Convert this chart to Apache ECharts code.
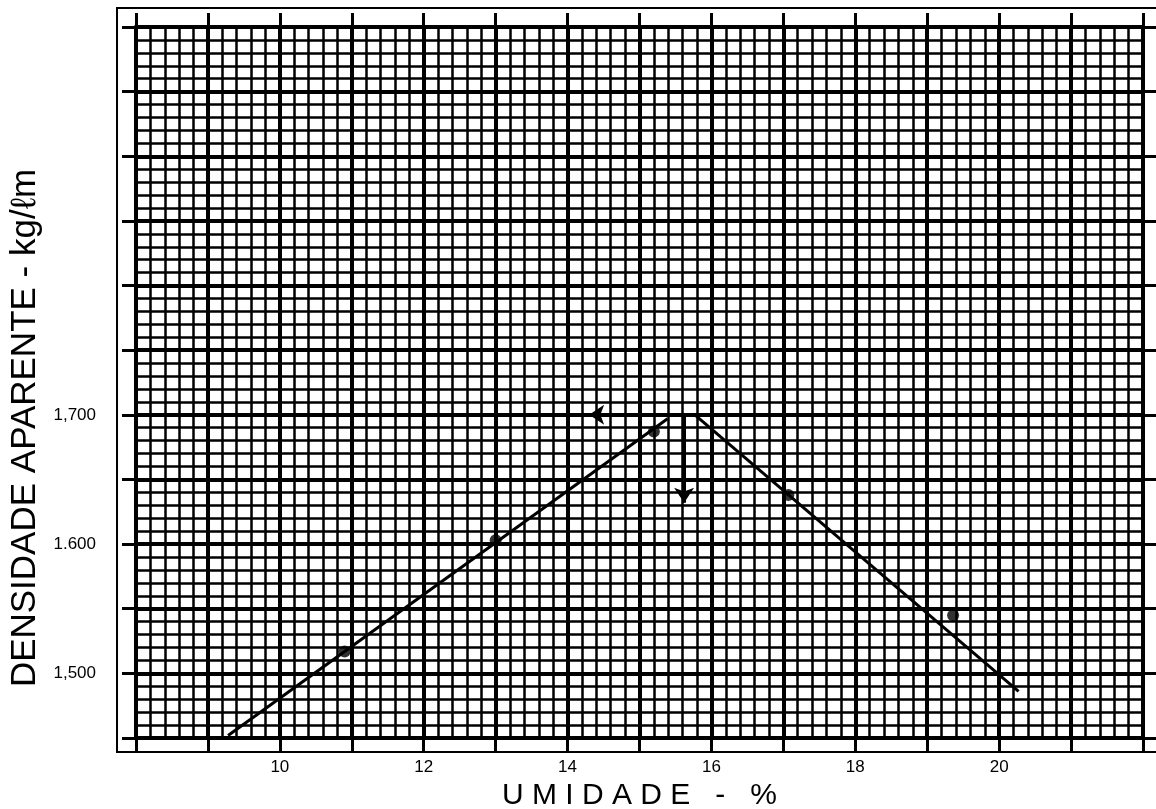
<!DOCTYPE html>
<html>
<head>
<meta charset="utf-8">
<title>Umidade x Densidade aparente</title>
<script src="https://cdn.jsdelivr.net/npm/echarts@6/dist/echarts.min.js"></script>
<style>
  html, body { margin: 0; padding: 0; background: #fff; }
  #main { width: 1156px; height: 809px; }
</style>
</head>
<body>
<div id="main"></div>
<script>
// pontos do ensaio (umidade %, densidade)
var umidade = [10.9, 13.0, 15.2, 17.07, 19.36];
var densidade = [1.517, 1.603, 1.687, 1.638, 1.545];
// retas ramo seco / ramo umido
var ramoSeco = [[9.28, 1.452], [15.39, 1.697]];
var ramoUmido = [[15.77, 1.700], [20.27, 1.486]];
// setas (densidade maxima / umidade otima)
var setaDens = [[15.62, 1.700], [14.3, 1.700]];
var setaUmid = [[15.62, 1.700], [15.62, 1.632]];
// rotulos
var xTicks = [10, 12, 14, 16, 18, 20];
var yTicks = [1.5, 1.6, 1.7];
var yTickText = ['1,500', '1.600', '1,700'];

var fonte = '"Liberation Sans", Arial, sans-serif';
var myChart = echarts.init(document.getElementById('main'));

var pontos = [];
for (var i = 0; i < umidade.length; i++) {
    pontos.push([umidade[i], densidade[i]]);
}

myChart.setOption({
    backgroundColor: '#fff',
    animation: false,
    grid: [
        { left: 136, top: 27, right: 13, bottom: 71, outerBoundsMode: 'none', containLabel: false },
        // moldura externa
        { left: 117, top: 8, right: -5, bottom: 57, outerBoundsMode: 'none', show: true, borderColor: '#000', borderWidth: 2, backgroundColor: 'transparent' }
    ],
    xAxis: [
        {
            type: 'value', gridIndex: 0, min: 8, max: 22, interval: 1,
            name: 'U M I D A D E   -   %', nameLocation: 'middle', nameGap: 37,
            nameTextStyle: { color: '#000', fontSize: 30, fontFamily: fonte },
            axisLine: { show: true, lineStyle: { color: '#000', width: 4 } },
            axisTick: { show: true, inside: false, length: 14, lineStyle: { color: '#000', width: 3 } },
            axisLabel: {
                margin: 21, color: '#000', fontSize: 17, fontFamily: fonte,
                formatter: function (v) { return xTicks.indexOf(v) >= 0 ? String(v) : ''; }
            },
            splitLine: { show: true, lineStyle: { color: '#000', width: 4 } },
            minorTick: { show: false, splitNumber: 5 },
            minorSplitLine: { show: true, lineStyle: { color: '#000', width: 2.5 } }
        },
        {
            type: 'value', gridIndex: 0, min: 8, max: 22, interval: 1, position: 'top',
            axisLine: { show: true, lineStyle: { color: '#000', width: 4 } },
            axisTick: { show: true, length: 14, lineStyle: { color: '#000', width: 3 } },
            axisLabel: { show: false },
            splitLine: { show: false }
        },
        { type: 'value', gridIndex: 1, show: false, min: 0, max: 1 }
    ],
    yAxis: [
        {
            type: 'value', gridIndex: 0, min: 1.45, max: 2.0, interval: 0.05,
            axisLine: { show: true, lineStyle: { color: '#000', width: 4 } },
            axisTick: { show: true, length: 14, lineStyle: { color: '#000', width: 3 } },
            axisLabel: {
                margin: 40, color: '#000', fontSize: 17, fontFamily: fonte,
                formatter: function (v) {
                    for (var k = 0; k < yTicks.length; k++) {
                        if (Math.abs(v - yTicks[k]) < 1e-6) return yTickText[k];
                    }
                    return '';
                }
            },
            splitLine: { show: true, lineStyle: { color: '#000', width: 4 } },
            minorTick: { show: false, splitNumber: 5 },
            minorSplitLine: { show: true, lineStyle: { color: '#000', width: 2.5 } }
        },
        {
            type: 'value', gridIndex: 0, min: 1.45, max: 2.0, interval: 0.05, position: 'right',
            axisLine: { show: true, lineStyle: { color: '#000', width: 4 } },
            axisTick: { show: true, length: 14, lineStyle: { color: '#000', width: 3 } },
            axisLabel: { show: false },
            splitLine: { show: false }
        },
        { type: 'value', gridIndex: 1, show: false, min: 0, max: 1 }
    ],
    graphic: [
        {
            type: 'text', x: 25, y: 428, rotation: Math.PI / 2,
            style: {
                text: 'DENSIDADE APARENTE - kg/ℓm', fill: '#000',
                font: '35px ' + fonte, align: 'center', verticalAlign: 'middle'
            }
        }
    ],
    series: [
        {
            type: 'lines', coordinateSystem: 'cartesian2d', xAxisIndex: 0, yAxisIndex: 0,
            symbol: ['none', 'none'],
            lineStyle: { color: '#000', width: 3, curveness: 0, opacity: 1 },
            data: [{ coords: ramoSeco }, { coords: ramoUmido }]
        },
        {
            type: 'lines', coordinateSystem: 'cartesian2d', xAxisIndex: 0, yAxisIndex: 0,
            symbol: ['none', 'arrow'], symbolSize: 15,
            lineStyle: { color: '#000', width: 3, curveness: 0, opacity: 1 },
            data: [{ coords: setaDens }, { coords: setaUmid }]
        },
        {
            type: 'scatter', xAxisIndex: 0, yAxisIndex: 0,
            symbol: 'circle', symbolSize: 12,
            itemStyle: { color: '#000' },
            data: pontos
        }
    ]
});
</script>
</body>
</html>
